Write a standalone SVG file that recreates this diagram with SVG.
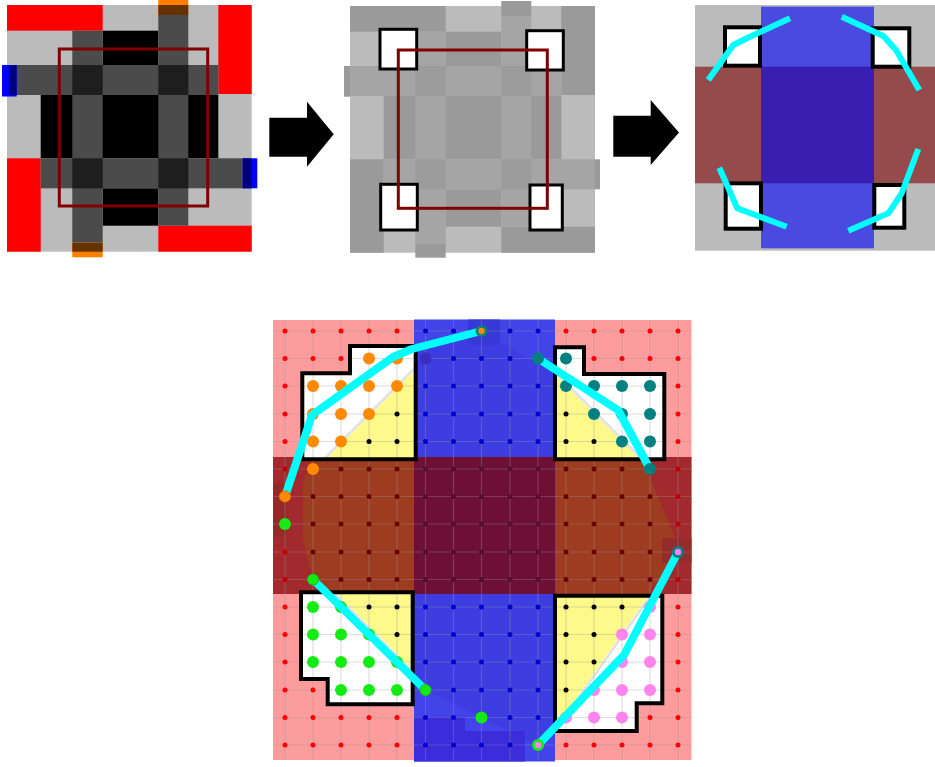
<svg xmlns="http://www.w3.org/2000/svg" width="935" height="767" viewBox="0 0 935 767">
<defs>
<style>
.lg{fill:#bbbbbb}
.rd{fill:#ff0000}
.g9{fill:#9a9a9a}
.gb{fill:#a5a5a5}
.sq{fill:#ffffff;stroke:#000;stroke-width:3}
.sq4{fill:#ffffff;stroke:#000;stroke-width:4}
.frame{fill:none;stroke:#800000;stroke-width:3}
.cy{fill:none;stroke:#00ffff;stroke-width:6;stroke-linejoin:round}
.cyb{fill:none;stroke:#00ffff;stroke-width:8;stroke-linejoin:round;stroke-linecap:round}
.box{fill:none;stroke:#000;stroke-width:4}
.yl{fill:#fdf98a}
.strip{stroke:#e0e0e0;stroke-width:2.5}
.grid{fill:none;stroke:#999999;stroke-opacity:0.33;stroke-width:1.2}
.sr circle{fill:#ff0000}
.sb circle{fill:#0000cc}
.sd circle{fill:#6b0000}
.so circle{fill:#c00000}
.sc circle{fill:#5a0b30}
.sk circle{fill:#000000}
.bo circle{fill:#ff8a00}
.bt circle{fill:#008080}
.bg circle{fill:#14ea14}
.bp circle{fill:#ff84ee}
</style>
<clipPath id="hull"><polygon points="481.5,331 557,375 643,460 680,550 538,745 481.5,717.5 425.5,690 313,579.5 303,540 303,483 313,453 400,355"/></clipPath>
</defs>
<rect width="935" height="767" fill="#ffffff"/>

<g id="panel1">
<rect x="7" y="5" width="244.7" height="246.7" class="lg"/>
<rect x="7" y="5" width="95.7" height="25.7" class="rd"/>
<rect x="218.3" y="5" width="33.4" height="89" class="rd"/>
<rect x="7" y="158.3" width="33.7" height="93.4" class="rd"/>
<rect x="158.3" y="225.7" width="93.4" height="26" class="rd"/>
<rect x="102.7" y="30.7" width="55.6" height="34.3" fill="#000"/>
<rect x="40.7" y="95" width="177.6" height="63.3" fill="#000"/>
<rect x="102.7" y="188.3" width="55.6" height="37.4" fill="#000"/>
<g fill="#4b4b4b">
<rect x="16.7" y="65" width="201.6" height="30"/>
<rect x="40.7" y="158.3" width="202" height="30"/>
<rect x="72.3" y="30.7" width="30.4" height="212"/>
<rect x="158.3" y="15" width="30" height="210.7"/>
</g>
<g fill="#1e1e1e">
<rect x="72.3" y="65" width="30.4" height="30"/>
<rect x="158.3" y="65" width="30" height="30"/>
<rect x="72.3" y="158.3" width="30.4" height="30"/>
<rect x="158.3" y="158.3" width="30" height="30"/>
</g>
<rect x="2" y="65" width="14.7" height="31.5" fill="#0000ff"/>
<rect x="9.3" y="65" width="7.4" height="30" fill="#00007f"/>
<rect x="242.7" y="158.3" width="14.6" height="30" fill="#0000ff"/>
<rect x="242.7" y="158.3" width="9" height="30" fill="#00007f"/>
<rect x="158.3" y="0" width="30" height="15" fill="#ff8000"/>
<rect x="158.3" y="5" width="30" height="10" fill="#663300"/>
<rect x="72.3" y="242.7" width="30.4" height="14.6" fill="#ff8000"/>
<rect x="72.3" y="242.7" width="30.4" height="9" fill="#663300"/>
<rect x="59.3" y="49" width="148.4" height="157" class="frame"/>
</g>

<g id="panel2">
<rect x="350" y="6" width="245" height="246.7" class="lg"/>
<rect x="350" y="6" width="95.7" height="25.7" class="g9"/>
<rect x="561.3" y="6" width="33.7" height="89" class="g9"/>
<rect x="350" y="159.3" width="33.7" height="93.4" class="g9"/>
<rect x="501.3" y="226.7" width="93.7" height="26" class="g9"/>
<rect x="445.7" y="31.7" width="55.6" height="34.3" class="g9"/>
<rect x="383.7" y="96" width="177.6" height="63.3" class="g9"/>
<rect x="445.7" y="189.3" width="55.6" height="37.4" class="g9"/>
<rect x="350" y="66" width="211.3" height="30" class="gb"/>
<rect x="383.7" y="159.3" width="211.3" height="30" class="gb"/>
<rect x="415.3" y="31.7" width="30.4" height="212" class="gb"/>
<rect x="501.3" y="16" width="30" height="210.7" class="gb"/>
<g fill="#9c9c9c">
<rect x="415.3" y="66" width="30.4" height="30"/>
<rect x="501.3" y="66" width="30" height="30"/>
<rect x="415.3" y="159.3" width="30.4" height="30"/>
<rect x="501.3" y="159.3" width="30" height="30"/>
</g>
<rect x="344" y="66" width="6" height="30.7" class="g9"/>
<rect x="595" y="159.3" width="5" height="30" class="g9"/>
<rect x="501.3" y="1" width="30" height="15" class="g9"/>
<rect x="415.3" y="243.7" width="30.4" height="14" class="g9"/>
<rect x="380" y="29.3" width="36.7" height="39.7" class="sq"/>
<rect x="526.7" y="30.7" width="36.6" height="39.3" class="sq"/>
<rect x="380.7" y="184.3" width="36.6" height="45.7" class="sq"/>
<rect x="530" y="185" width="32.3" height="45" class="sq"/>
<rect x="398.3" y="50" width="149" height="158.3" class="frame"/>
</g>

<g id="panel3">
<rect x="695" y="5" width="240" height="245.7" class="lg"/>
<rect x="695" y="66.7" width="240" height="116.6" fill="#954b4b"/>
<rect x="761" y="6.7" width="113" height="241.6" fill="#4a4ae0"/>
<rect x="761" y="66.7" width="113" height="116.6" fill="#3a1eb2"/>
<rect x="725" y="27.3" width="35" height="38.4" class="sq4"/>
<rect x="872.7" y="28.3" width="36.6" height="38.4" class="sq4"/>
<rect x="725.7" y="183.3" width="35.3" height="45.4" class="sq4"/>
<rect x="874.3" y="185" width="30" height="42.7" class="sq4"/>
<polyline class="cy" points="708.3,80 733.3,45 746.7,38.3 790,18.3"/>
<polyline class="cy" points="841.7,16.7 883.3,36 896,50 919.3,90"/>
<polyline class="cy" points="719.3,167.7 737.3,208.3 786.7,226.7"/>
<polyline class="cy" points="918.3,149 901.7,193.3 888.3,213.3 848.3,230.7"/>
</g>

<g id="connectors" fill="#000">
<polygon points="269.3,117.7 307,117.7 307,101.7 333.7,134.3 307,166.7 307,156.7 269.3,156.7"/>
<polygon points="613.3,115.7 650.7,115.7 650.7,100 679,132.5 650.7,165 650.7,156.7 613.3,156.7"/>
</g>

<g id="panel4">
<rect x="273" y="320" width="418.5" height="440" fill="#fc9c9c"/>
<rect x="273" y="457" width="418.5" height="137" fill="#a2292d"/>
<rect x="414" y="319.5" width="141" height="442" fill="#4343ea"/>
<g clip-path="url(#hull)">
<rect x="273" y="457" width="418.5" height="137" fill="#9d3c20"/>
<rect x="414" y="319.5" width="141" height="442" fill="#3d3de2"/>
</g>
<rect x="414" y="457" width="141" height="137" fill="#6e1035"/>
<rect x="273" y="483" width="14" height="54" fill="#952828"/>
<rect x="662" y="538" width="29.5" height="25" fill="#952b2b"/>
<rect x="468" y="319.5" width="32" height="25.5" fill="#3838d6"/>
<rect x="414" y="717" width="51" height="44.5" fill="#3b2cdc"/>
<rect x="465" y="731" width="60" height="30.5" fill="#3b2cdc"/>

<polygon points="302.3,373.3 350,373.3 350,346 415.7,346 415.7,459.3 302.3,459.3" fill="#fff"/>
<polygon points="555,347.3 584,347.3 584,374 664.3,374 664.3,459.3 555,459.3" fill="#fff"/>
<polygon points="301,592.3 412.7,592.3 412.7,704.3 327.7,704.3 327.7,679 301,679" fill="#fff"/>
<polygon points="555,595.7 662.3,595.7 662.3,703.3 636.7,703.3 636.7,731 555,731" fill="#fff"/>
<polygon class="yl" points="415.7,369.3 415.7,459.3 325.7,459.3"/>
<polygon class="yl" points="555,374.4 639.9,459.3 555,459.3"/>
<polygon class="yl" points="335.6,592.3 412.7,592.3 412.7,669.4"/>
<polygon class="yl" points="555,595.7 648.5,595.7 555,728.5"/>
<line class="strip" x1="324.5" y1="458.3" x2="414.7" y2="368.1"/>
<line class="strip" x1="556" y1="373.2" x2="641" y2="458.2"/>
<line class="strip" x1="334.4" y1="593.3" x2="411.7" y2="670.6"/>
<line class="strip" x1="649.8" y1="596.7" x2="556" y2="730"/>

<path class="grid" d="M285 320V760M313 320V760M341 320V760M369 320V760M397 320V760M425.5 320V760M453.5 320V760M481.5 320V760M510 320V760M538 320V760M566 320V760M594 320V760M622 320V760M650 320V760M678 320V760M273 331H691.5M273 358.5H691.5M273 386H691.5M273 414H691.5M273 441.5H691.5M273 469H691.5M273 496.5H691.5M273 524H691.5M273 552H691.5M273 579.5H691.5M273 607H691.5M273 634.5H691.5M273 662H691.5M273 690H691.5M273 717.5H691.5M273 745H691.5"/>

<polygon class="box" points="302.3,373.3 350,373.3 350,346 415.7,346 415.7,459.3 302.3,459.3"/>
<polygon class="box" points="555,347.3 584,347.3 584,374 664.3,374 664.3,459.3 555,459.3"/>
<polygon class="box" points="301,592.3 412.7,592.3 412.7,704.3 327.7,704.3 327.7,679 301,679"/>
<polygon class="box" points="555,595.7 662.3,595.7 662.3,703.3 636.7,703.3 636.7,731 555,731"/>

<g class="sr">
<circle cx="285" cy="331" r="2.5"/><circle cx="313" cy="331" r="2.5"/><circle cx="341" cy="331" r="2.5"/><circle cx="369" cy="331" r="2.5"/><circle cx="397" cy="331" r="2.5"/>
<circle cx="285" cy="358.5" r="2.5"/><circle cx="313" cy="358.5" r="2.5"/><circle cx="341" cy="358.5" r="2.5"/>
<circle cx="285" cy="386" r="2.5"/><circle cx="285" cy="414" r="2.5"/><circle cx="285" cy="441.5" r="2.5"/>
<circle cx="566" cy="331" r="2.5"/><circle cx="594" cy="331" r="2.5"/><circle cx="622" cy="331" r="2.5"/><circle cx="650" cy="331" r="2.5"/><circle cx="678" cy="331" r="2.5"/>
<circle cx="594" cy="358.5" r="2.5"/><circle cx="622" cy="358.5" r="2.5"/><circle cx="650" cy="358.5" r="2.5"/><circle cx="678" cy="358.5" r="2.5"/>
<circle cx="678" cy="386" r="2.5"/><circle cx="678" cy="414" r="2.5"/><circle cx="678" cy="441.5" r="2.5"/>
<circle cx="285" cy="607" r="2.5"/><circle cx="285" cy="634.5" r="2.5"/><circle cx="285" cy="662" r="2.5"/><circle cx="285" cy="690" r="2.5"/><circle cx="313" cy="690" r="2.5"/>
<circle cx="285" cy="717.5" r="2.5"/><circle cx="313" cy="717.5" r="2.5"/><circle cx="341" cy="717.5" r="2.5"/><circle cx="369" cy="717.5" r="2.5"/><circle cx="397" cy="717.5" r="2.5"/>
<circle cx="285" cy="745" r="2.5"/><circle cx="313" cy="745" r="2.5"/><circle cx="341" cy="745" r="2.5"/><circle cx="369" cy="745" r="2.5"/><circle cx="397" cy="745" r="2.5"/>
<circle cx="678" cy="607" r="2.5"/><circle cx="678" cy="634.5" r="2.5"/><circle cx="678" cy="662" r="2.5"/><circle cx="678" cy="690" r="2.5"/>
<circle cx="650" cy="717.5" r="2.5"/><circle cx="678" cy="717.5" r="2.5"/>
<circle cx="566" cy="745" r="2.5"/><circle cx="594" cy="745" r="2.5"/><circle cx="622" cy="745" r="2.5"/><circle cx="650" cy="745" r="2.5"/><circle cx="678" cy="745" r="2.5"/>
</g>
<g class="sb">
<circle cx="425.5" cy="331" r="2.5"/><circle cx="453.5" cy="331" r="2.5"/><circle cx="510" cy="331" r="2.5"/><circle cx="538" cy="331" r="2.5"/>
<circle cx="453.5" cy="358.5" r="2.5"/><circle cx="481.5" cy="358.5" r="2.5"/><circle cx="510" cy="358.5" r="2.5"/>
<circle cx="425.5" cy="386" r="2.5"/><circle cx="453.5" cy="386" r="2.5"/><circle cx="481.5" cy="386" r="2.5"/><circle cx="510" cy="386" r="2.5"/><circle cx="538" cy="386" r="2.5"/>
<circle cx="425.5" cy="414" r="2.5"/><circle cx="453.5" cy="414" r="2.5"/><circle cx="481.5" cy="414" r="2.5"/><circle cx="510" cy="414" r="2.5"/><circle cx="538" cy="414" r="2.5"/>
<circle cx="425.5" cy="441.5" r="2.5"/><circle cx="453.5" cy="441.5" r="2.5"/><circle cx="481.5" cy="441.5" r="2.5"/><circle cx="510" cy="441.5" r="2.5"/><circle cx="538" cy="441.5" r="2.5"/>
<circle cx="425.5" cy="607" r="2.5"/><circle cx="453.5" cy="607" r="2.5"/><circle cx="481.5" cy="607" r="2.5"/><circle cx="510" cy="607" r="2.5"/><circle cx="538" cy="607" r="2.5"/>
<circle cx="425.5" cy="634.5" r="2.5"/><circle cx="453.5" cy="634.5" r="2.5"/><circle cx="481.5" cy="634.5" r="2.5"/><circle cx="510" cy="634.5" r="2.5"/><circle cx="538" cy="634.5" r="2.5"/>
<circle cx="425.5" cy="662" r="2.5"/><circle cx="453.5" cy="662" r="2.5"/><circle cx="481.5" cy="662" r="2.5"/><circle cx="510" cy="662" r="2.5"/><circle cx="538" cy="662" r="2.5"/>
<circle cx="453.5" cy="690" r="2.5"/><circle cx="481.5" cy="690" r="2.5"/><circle cx="510" cy="690" r="2.5"/><circle cx="538" cy="690" r="2.5"/>
<circle cx="425.5" cy="717.5" r="2.5"/><circle cx="453.5" cy="717.5" r="2.5"/><circle cx="510" cy="717.5" r="2.5"/><circle cx="538" cy="717.5" r="2.5"/>
<circle cx="425.5" cy="745" r="2.5"/><circle cx="453.5" cy="745" r="2.5"/><circle cx="481.5" cy="745" r="2.5"/><circle cx="510" cy="745" r="2.5"/>
</g>
<g class="sd">
<circle cx="341" cy="469" r="2.5"/><circle cx="369" cy="469" r="2.5"/><circle cx="397" cy="469" r="2.5"/>
<circle cx="313" cy="496.5" r="2.5"/><circle cx="341" cy="496.5" r="2.5"/><circle cx="369" cy="496.5" r="2.5"/><circle cx="397" cy="496.5" r="2.5"/>
<circle cx="313" cy="524" r="2.5"/><circle cx="341" cy="524" r="2.5"/><circle cx="369" cy="524" r="2.5"/><circle cx="397" cy="524" r="2.5"/>
<circle cx="313" cy="552" r="2.5"/><circle cx="341" cy="552" r="2.5"/><circle cx="369" cy="552" r="2.5"/><circle cx="397" cy="552" r="2.5"/>
<circle cx="341" cy="579.5" r="2.5"/><circle cx="369" cy="579.5" r="2.5"/><circle cx="397" cy="579.5" r="2.5"/>
<circle cx="566" cy="469" r="2.5"/><circle cx="594" cy="469" r="2.5"/><circle cx="622" cy="469" r="2.5"/>
<circle cx="566" cy="496.5" r="2.5"/><circle cx="594" cy="496.5" r="2.5"/><circle cx="622" cy="496.5" r="2.5"/><circle cx="650" cy="496.5" r="2.5"/>
<circle cx="566" cy="524" r="2.5"/><circle cx="594" cy="524" r="2.5"/><circle cx="622" cy="524" r="2.5"/><circle cx="650" cy="524" r="2.5"/>
<circle cx="566" cy="552" r="2.5"/><circle cx="594" cy="552" r="2.5"/><circle cx="622" cy="552" r="2.5"/><circle cx="650" cy="552" r="2.5"/>
<circle cx="566" cy="579.5" r="2.5"/><circle cx="594" cy="579.5" r="2.5"/><circle cx="622" cy="579.5" r="2.5"/><circle cx="650" cy="579.5" r="2.5"/>
</g>
<g class="so">
<circle cx="285" cy="469" r="2.5"/><circle cx="285" cy="552" r="2.5"/><circle cx="285" cy="579.5" r="2.5"/>
<circle cx="678" cy="469" r="2.5"/><circle cx="678" cy="496.5" r="2.5"/><circle cx="678" cy="524" r="2.5"/><circle cx="678" cy="579.5" r="2.5"/>
</g>
<g class="sc">
<circle cx="425.5" cy="469" r="2.5"/><circle cx="453.5" cy="469" r="2.5"/><circle cx="481.5" cy="469" r="2.5"/><circle cx="510" cy="469" r="2.5"/><circle cx="538" cy="469" r="2.5"/>
<circle cx="425.5" cy="496.5" r="2.5"/><circle cx="453.5" cy="496.5" r="2.5"/><circle cx="481.5" cy="496.5" r="2.5"/><circle cx="510" cy="496.5" r="2.5"/><circle cx="538" cy="496.5" r="2.5"/>
<circle cx="425.5" cy="524" r="2.5"/><circle cx="453.5" cy="524" r="2.5"/><circle cx="481.5" cy="524" r="2.5"/><circle cx="510" cy="524" r="2.5"/><circle cx="538" cy="524" r="2.5"/>
<circle cx="425.5" cy="552" r="2.5"/><circle cx="453.5" cy="552" r="2.5"/><circle cx="481.5" cy="552" r="2.5"/><circle cx="510" cy="552" r="2.5"/><circle cx="538" cy="552" r="2.5"/>
<circle cx="425.5" cy="579.5" r="2.5"/><circle cx="453.5" cy="579.5" r="2.5"/><circle cx="481.5" cy="579.5" r="2.5"/><circle cx="510" cy="579.5" r="2.5"/><circle cx="538" cy="579.5" r="2.5"/>
</g>
<g class="sk">
<circle cx="397" cy="414" r="2.5"/><circle cx="369" cy="441.5" r="2.5"/><circle cx="397" cy="441.5" r="2.5"/>
<circle cx="566" cy="414" r="2.5"/><circle cx="566" cy="441.5" r="2.5"/><circle cx="594" cy="441.5" r="2.5"/>
<circle cx="369" cy="607" r="2.5"/><circle cx="397" cy="607" r="2.5"/><circle cx="397" cy="634.5" r="2.5"/>
<circle cx="566" cy="607" r="2.5"/><circle cx="594" cy="607" r="2.5"/><circle cx="622" cy="607" r="2.5"/>
<circle cx="566" cy="634.5" r="2.5"/><circle cx="594" cy="634.5" r="2.5"/>
<circle cx="566" cy="662" r="2.5"/><circle cx="594" cy="662" r="2.5"/><circle cx="566" cy="690" r="2.5"/>
</g>

<circle cx="425.5" cy="358.5" r="6" fill="#3a2cc0"/>
<g class="bo">
<circle cx="369" cy="358.5" r="6"/><circle cx="397" cy="358.5" r="6"/>
<circle cx="313" cy="386" r="6"/><circle cx="341" cy="386" r="6"/><circle cx="369" cy="386" r="6"/><circle cx="397" cy="386" r="6"/>
<circle cx="313" cy="414" r="6"/><circle cx="341" cy="414" r="6"/><circle cx="369" cy="414" r="6"/>
<circle cx="313" cy="441.5" r="6"/><circle cx="341" cy="441.5" r="6"/><circle cx="313" cy="469" r="6"/>
</g>
<g class="bt">
<circle cx="566" cy="358.5" r="6"/>
<circle cx="566" cy="386" r="6"/><circle cx="594" cy="386" r="6"/><circle cx="622" cy="386" r="6"/><circle cx="650" cy="386" r="6"/>
<circle cx="594" cy="414" r="6"/><circle cx="622" cy="414" r="6"/><circle cx="650" cy="414" r="6"/>
<circle cx="622" cy="441.5" r="6"/><circle cx="650" cy="441.5" r="6"/>
</g>
<g class="bg">
<circle cx="285" cy="524" r="6"/>
<circle cx="313" cy="607" r="6"/><circle cx="341" cy="607" r="6"/>
<circle cx="313" cy="634.5" r="6"/><circle cx="341" cy="634.5" r="6"/><circle cx="369" cy="634.5" r="6"/>
<circle cx="313" cy="662" r="6"/><circle cx="341" cy="662" r="6"/><circle cx="369" cy="662" r="6"/><circle cx="397" cy="662" r="6"/>
<circle cx="341" cy="690" r="6"/><circle cx="369" cy="690" r="6"/><circle cx="397" cy="690" r="6"/>
<circle cx="481.5" cy="717.5" r="6"/>
</g>
<g class="bp">
<circle cx="650" cy="607" r="6"/>
<circle cx="622" cy="634.5" r="6"/><circle cx="650" cy="634.5" r="6"/>
<circle cx="622" cy="662" r="6"/><circle cx="650" cy="662" r="6"/>
<circle cx="594" cy="690" r="6"/><circle cx="622" cy="690" r="6"/><circle cx="650" cy="690" r="6"/>
<circle cx="566" cy="717.5" r="6"/><circle cx="594" cy="717.5" r="6"/><circle cx="622" cy="717.5" r="6"/>
</g>

<polyline class="cyb" points="285,496.5 312,415 393,357 412,349 481.5,331"/>
<polyline class="cyb" points="538,358.5 618,410 650,469"/>
<polyline class="cyb" points="313,579.5 425.5,690"/>
<polyline class="cyb" points="678,552 624,655 538,745"/>

<circle cx="481.5" cy="331" r="6" fill="#008080"/><circle cx="481.5" cy="331" r="3.2" fill="#ff8a00"/>
<circle cx="538" cy="358.5" r="6" fill="#008080"/>
<circle cx="650" cy="469" r="6" fill="#008080"/>
<circle cx="285" cy="496.5" r="5.6" fill="#ff8a00" stroke="#e07000" stroke-width="1"/>
<circle cx="313" cy="579.5" r="5.6" fill="#14ea14" stroke="#18b818" stroke-width="1"/>
<circle cx="425.5" cy="690" r="5.6" fill="#14ea14" stroke="#18b818" stroke-width="1"/>
<circle cx="538" cy="745" r="6" fill="#14ea14"/><circle cx="538" cy="745" r="3.2" fill="#ff84ee"/>
<circle cx="678" cy="552" r="6" fill="#008080"/><circle cx="678" cy="552" r="3.2" fill="#ff84ee"/>
</g>
</svg>
